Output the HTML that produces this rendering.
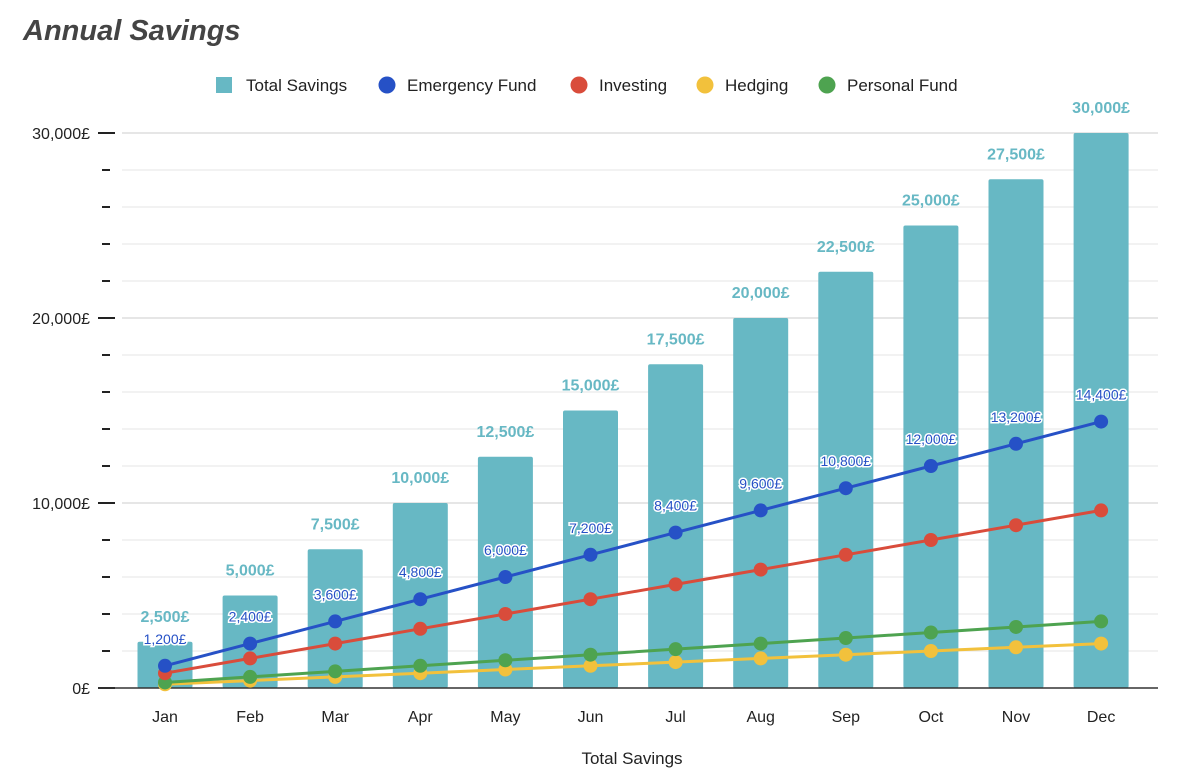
<!DOCTYPE html>
<html><head><meta charset="utf-8"><style>
body{margin:0;background:#fff;font-family:"Liberation Sans",Arial,sans-serif}
svg{display:block}
</style></head><body>
<svg width="1200" height="782" id="c">
<text x="23" y="40" font-size="29" font-weight="bold" font-style="italic" fill="#444">Annual Savings</text>
<g font-size="17" fill="#222">
<rect x="216" y="77" width="16" height="16" fill="#67b8c4"/>
<text x="246" y="91">Total Savings</text>
<circle cx="387" cy="85" r="8.5" fill="#2651c6"/>
<text x="407" y="91">Emergency Fund</text>
<circle cx="579" cy="85" r="8.5" fill="#d94c3b"/>
<text x="599" y="91">Investing</text>
<circle cx="705" cy="85" r="8.5" fill="#f2c13c"/>
<text x="725" y="91">Hedging</text>
<circle cx="827" cy="85" r="8.5" fill="#4ea350"/>
<text x="847" y="91">Personal Fund</text>
</g>
<text x="632" y="764" font-size="17" text-anchor="middle" fill="#222">Total Savings</text>
</svg>
<script>
const months=["Jan","Feb","Mar","Apr","May","Jun","Jul","Aug","Sep","Oct","Nov","Dec"];
const totalSavings=[2500,5000,7500,10000,12500,15000,17500,20000,22500,25000,27500,30000];
const emergencyFund=[1200,2400,3600,4800,6000,7200,8400,9600,10800,12000,13200,14400];
const investing=[800,1600,2400,3200,4000,4800,5600,6400,7200,8000,8800,9600];
const hedging=[200,400,600,800,1000,1200,1400,1600,1800,2000,2200,2400];
const personalFund=[300,600,900,1200,1500,1800,2100,2400,2700,3000,3300,3600];
const yMajor=[0,10000,20000,30000];
const yMajorLabels=["0£","10,000£","20,000£","30,000£"];
const NS="http://www.w3.org/2000/svg";
const svg=document.getElementById('c');
const y=v=>688-v*(555/30000);
const x=i=>165+85.1*i;
const fmt=v=>v.toLocaleString('en-US')+'£';
function el(t,a,p){const e=document.createElementNS(NS,t);for(const k in a)e.setAttribute(k,a[k]);(p||svg).appendChild(e);return e;}
const grid=el('g',{});


for(let v=0;v<=30000;v+=2000){
  const major=yMajor.includes(v);
  if(v>0){el('line',{x1:122,x2:1158,y1:y(v),y2:y(v),stroke:major?'#ccc':'#e4e4e4','stroke-width':1},grid);}
  el('line',{x1:major?98:102,x2:major?115:110,y1:y(v),y2:y(v),stroke:'#222','stroke-width':2},grid);
}
yMajor.forEach((v,i)=>{const t=el('text',{x:90,y:y(v)+6,'font-size':16,'text-anchor':'end',fill:'#222'});t.textContent=yMajorLabels[i];

});
totalSavings.forEach((v,i)=>{
  const r=el('rect',{x:x(i)-27.5,y:y(v),width:55,height:688-y(v),fill:'#67b8c4',rx:2});
  
  
  const t=el('text',{x:x(i),y:y(v)-20,'font-size':16,'font-weight':'bold','text-anchor':'middle',fill:'#67b8c4'});t.textContent=fmt(v);
  
  
  const m=el('text',{x:x(i),y:722,'font-size':16,'text-anchor':'middle',fill:'#222'});m.textContent=months[i];
  
  
});
el('line',{x1:98,x2:1158,y1:688,y2:688,stroke:'#333','stroke-width':1.5});
const series=[[hedging,'#f2c13c','hedging'],[personalFund,'#4ea350','personal-fund'],[investing,'#d94c3b','investing'],[emergencyFund,'#2651c6','emergency-fund']];
series.forEach(([d,c,n])=>{
  const p=el('polyline',{points:d.map((v,i)=>x(i)+','+y(v)).join(' '),fill:'none',stroke:c,'stroke-width':3});
  
  
  d.forEach((v,i)=>{const ci=el('circle',{cx:x(i),cy:y(v),r:7,fill:c});
    
    });
});
emergencyFund.forEach((v,i)=>{
  const t=el('text',{x:x(i),y:y(v)-22,'font-size':14,'text-anchor':'middle',fill:'#2651c6',stroke:'#fff','stroke-width':3,'paint-order':'stroke'});t.textContent=fmt(v);
  
  
});
</script>
</body></html>
